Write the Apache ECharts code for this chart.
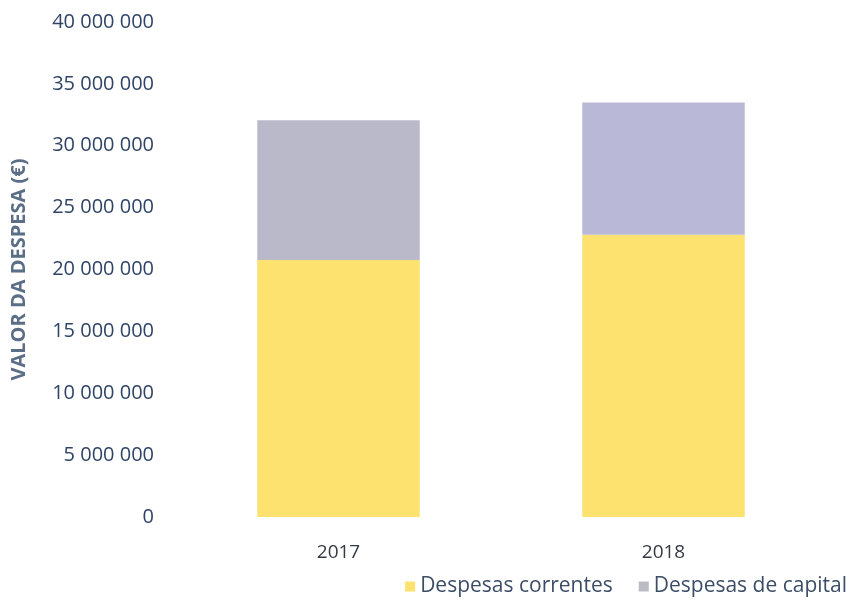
<!DOCTYPE html>
<html>
<head>
<meta charset="utf-8">
<script src="https://cdn.jsdelivr.net/npm/echarts@6/dist/echarts.min.js"></script>
<style>html,body{margin:0;padding:0;background:#fff;}#c{width:854px;height:602px;}</style>
</head>
<body>
<div id="c"></div>
<script>
var categories = ['2017', '2018'];
var correntes = [20770000, 22800000];
var capital = [11300000, 10700000];
var seriesNames = ['Despesas correntes', 'Despesas de capital'];
var yTicks = [0, 5000000, 10000000, 15000000, 20000000, 25000000, 30000000, 35000000, 40000000];

var capitalColors = ['#BAB9C9', '#B9B9D7'];
var chart = echarts.init(document.getElementById('c'));
function fmt(v){ return String(v).replace(/\B(?=(\d{3})+(?!\d))/g, ' '); }
chart.setOption({
  animation: false,
  backgroundColor: '#ffffff',
  grid: { left: 176, right: 28, top: 22, bottom: 85 },
  legend: {
    right: 2, bottom: 0, itemWidth: 10, itemHeight: 10, itemGap: 26,
    icon: 'rect',
    textStyle: { fontFamily: 'Open Sans', fontSize: 21, color: '#3c4d68' },
    data: [
      { name: seriesNames[0], itemStyle: { color: '#FDE36E' } },
      { name: seriesNames[1], itemStyle: { color: '#BBBBC4' } }
    ]
  },
  xAxis: {
    type: 'category', data: categories,
    axisLine: { show: false }, axisTick: { show: false },
    axisLabel: { fontFamily: 'Open Sans', fontSize: 19, color: '#333a44', margin: 26 }
  },
  yAxis: {
    type: 'value', min: yTicks[0], max: yTicks[yTicks.length - 1], interval: yTicks[1] - yTicks[0],
    name: 'VALOR DA DESPESA (€)', nameLocation: 'middle', nameGap: 147, nameRotate: 90,
    nameTextStyle: { fontFamily: 'Open Sans', fontSize: 20, fontWeight: 'bold', color: '#5b6e87' },
    splitLine: { show: false }, axisLine: { show: false }, axisTick: { show: false },
    axisLabel: { fontFamily: 'Open Sans', fontSize: 20, color: '#2f4466', margin: 22, formatter: fmt }
  },
  series: [
    { name: seriesNames[0], type: 'bar', stack: 's', barWidth: '50%',
      itemStyle: { color: '#FDE270' }, data: correntes },
    { name: seriesNames[1], type: 'bar', stack: 's', barWidth: '50%',
      itemStyle: { color: '#BBBBC4' },
      data: capital.map(function(v, i){ return { value: v, itemStyle: { color: capitalColors[i] } }; }) }
  ]
});
</script>
</body>
</html>
